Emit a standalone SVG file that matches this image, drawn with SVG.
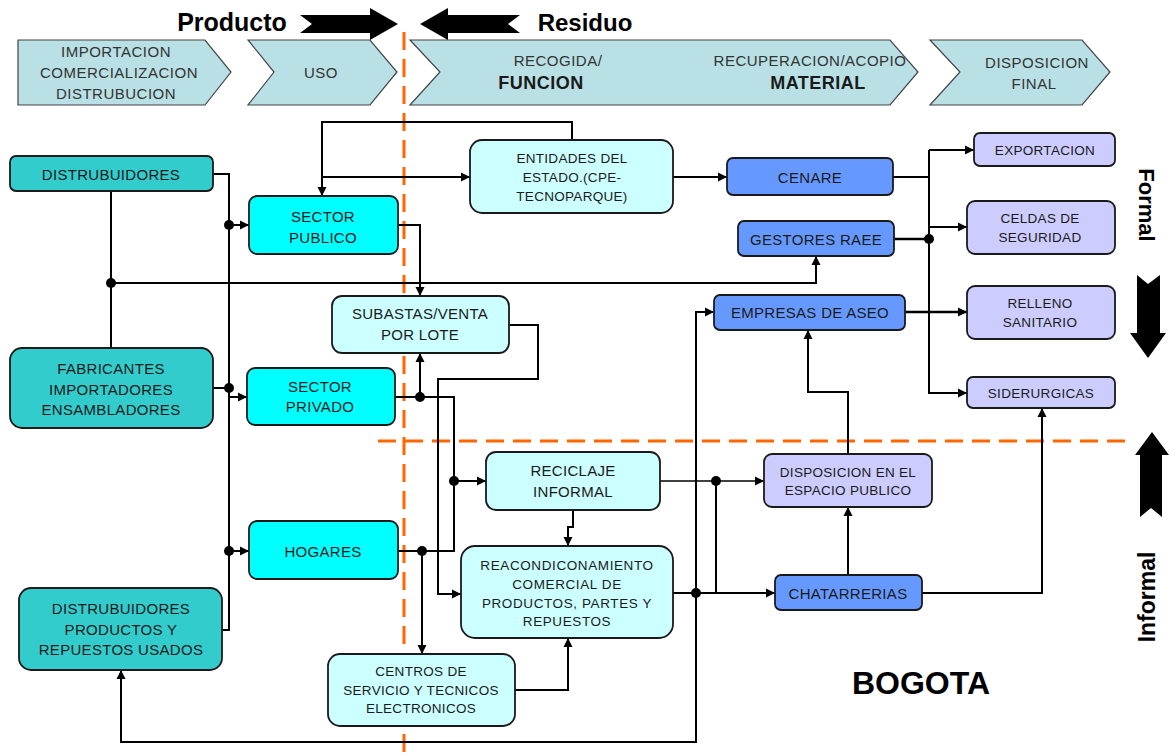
<svg xmlns="http://www.w3.org/2000/svg" width="1169" height="755" viewBox="0 0 1169 755">
<defs>
<marker id="arr" markerUnits="userSpaceOnUse" markerWidth="10" markerHeight="10" refX="9" refY="5" orient="auto">
<path d="M0,0.5 L9,5 L0,9.5 z" fill="#000"/>
</marker>
<style>
text{font-family:"Liberation Sans",Arial,sans-serif;text-anchor:middle;dominant-baseline:central;fill:#1a1a1a}
.hdr{fill:#b9e0e4;stroke:#444;stroke-width:1.2}
.ht{font-size:15px;letter-spacing:0.5px;fill:#333}
.hb{font-size:18px;letter-spacing:0.5px;font-weight:bold;fill:#1a1a1a}
.big{font-weight:bold;fill:#000}
.node rect{stroke:#1a1a1a;stroke-width:1.8}
.teal rect{fill:#33cccc}
.cyan rect{fill:#00ffff}
.pale rect{fill:#ccffff}
.blue rect{fill:#6699ff}
.lav rect{fill:#ccccff}
.t14{font-size:15px;letter-spacing:0.3px}
.t12{font-size:13.5px;letter-spacing:0.3px}
.t12w{font-size:13.5px;letter-spacing:0.6px}
#connectors path{fill:none;stroke:#000;stroke-width:2}
#connectors .thin{stroke-width:1.3}
#connectors .thick{stroke-width:2.6}
#connectors .a{marker-end:url(#arr)}
#connectors circle{fill:#000}
.orange{stroke:#ff6600;stroke-width:3;stroke-dasharray:18 9;fill:none}
</style>
</defs>
<rect width="1169" height="755" fill="#fff"/>

<!-- header -->
<g id="header">
<polygon class="hdr" points="18,40 205,40 231,72 205,105 18,105"/>
<text class="ht" x="116" y="51">IMPORTACION</text>
<text class="ht" x="119" y="72">COMERCIALIZACION</text>
<text class="ht" x="116" y="93">DISTRUBUCION</text>
<polygon class="hdr" points="248,40 370,40 397,72 370,105 248,105 274,72"/>
<text class="ht" x="321" y="72">USO</text>
<polygon class="hdr" points="410,40 890,40 918,72 890,105 410,105 440,72"/>
<text class="ht" x="558" y="60">RECOGIDA/</text>
<text class="hb" x="541" y="83">FUNCION</text>
<text class="ht" x="810" y="60">RECUPERACION/ACOPIO</text>
<text class="hb" x="818" y="83">MATERIAL</text>
<polygon class="hdr" points="930,40 1082,40 1110,72 1082,105 930,105 960,72"/>
<text class="ht" x="1037" y="62">DISPOSICION</text>
<text class="ht" x="1034" y="83">FINAL</text>
<text class="big" x="232" y="22" font-size="25">Producto</text>
<polygon points="300,15 370,15 370,8 398,24 370,40 370,33 300,33 312,24" fill="#000"/>
<text class="big" x="585" y="22" font-size="24">Residuo</text>
<polygon points="520,15 448,15 448,8 420,24 448,40 448,33 520,33 508,24" fill="#000"/>
</g>

<!-- orange dividers -->
<path class="orange" d="M404,32 V755"/>
<path class="orange" d="M378,441 H1134"/>

<!-- connectors -->
<g id="connectors">
<path d="M213,174 H229 V630 H222"/>
<path class="a" d="M229,225 H249"/>
<path d="M213,388 H229"/>
<path class="a" d="M229,397 H247"/>
<path class="a" d="M229,551 H249"/>
<path d="M111,191 V348"/>
<path class="a" d="M111,283 H816 V256"/>
<path class="a" d="M572,140 V122 H322 V196"/>
<path class="a" d="M322,177 H470"/>
<path class="a" d="M673,177 H727"/>
<path d="M893,177 H929"/>
<path class="a" d="M929,150 H974"/>
<path class="a" d="M929,150 V393 H967"/>
<path class="a" d="M929,227 H967"/>
<path class="thick" d="M894,239 H929"/>
<path class="a thick" d="M905,312 H967"/>
<path class="a" d="M398,225 H420 V296"/>
<path class="a" d="M509,325 H538 V379 H438 V594 H461"/>
<path d="M395,397 H454 V551 H398"/>
<path class="a" d="M420,397 V353"/>
<path class="a" d="M454,481 H486"/>
<path class="a" d="M422,551 V654"/>
<path class="a" d="M573,510 V527 H568 V546"/>
<path class="a thin" d="M660,481 H764"/>
<path d="M716,481 V593"/>
<path class="a" d="M673,593 H775"/>
<path class="a" d="M696,593 V312 H714"/>
<path class="a" d="M696,593 V742 H121 V670"/>
<path class="a" d="M515,690 H568 V638"/>
<path class="a" d="M848,575 V507"/>
<path class="a" d="M848,454 V392 H808 V330"/>
<path class="a" d="M922,593 H1042 V408"/>
<circle cx="229" cy="225" r="5"/>
<circle cx="229" cy="388" r="5"/>
<circle cx="229" cy="551" r="5"/>
<circle cx="111" cy="283" r="5"/>
<circle cx="929" cy="239" r="5"/>
<circle cx="420" cy="397" r="5"/>
<circle cx="454" cy="481" r="5"/>
<circle cx="422" cy="551" r="5"/>
<circle cx="716" cy="481" r="5"/>
<circle cx="696" cy="593" r="5"/>
</g>

<!-- nodes -->
<g id="distribuidores" class="node teal"><rect x="10" y="156" width="203" height="35" rx="6"/><text class="t14" x="111" y="174">DISTRUBUIDORES</text></g>
<g id="fabricantes" class="node teal"><rect x="10" y="348" width="203" height="80" rx="12"/><text class="t14" x="111" y="368">FABRICANTES</text><text class="t14" x="111" y="389">IMPORTADORES</text><text class="t14" x="111" y="409">ENSAMBLADORES</text></g>
<g id="usados" class="node teal"><rect x="19" y="588" width="203" height="82" rx="12"/><text class="t14" x="121" y="608">DISTRUBUIDORES</text><text class="t14" x="121" y="629">PRODUCTOS  Y</text><text class="t14" x="121" y="649">REPUESTOS USADOS</text></g>
<g id="sector-publico" class="node cyan"><rect x="249" y="196" width="149" height="58" rx="8"/><text class="t14" x="323" y="216">SECTOR</text><text class="t14" x="323" y="237">PUBLICO</text></g>
<g id="sector-privado" class="node cyan"><rect x="247" y="368" width="148" height="57" rx="8"/><text class="t14" x="320" y="386">SECTOR</text><text class="t14" x="320" y="406">PRIVADO</text></g>
<g id="hogares" class="node cyan"><rect x="249" y="521" width="149" height="58" rx="8"/><text class="t14" x="323" y="551">HOGARES</text></g>
<g id="entidades" class="node pale"><rect x="470" y="140" width="203" height="73" rx="12"/><text class="t12" x="572" y="158">ENTIDADES DEL</text><text class="t12" x="572" y="177">ESTADO.(CPE-</text><text class="t12" x="572" y="196">TECNOPARQUE)</text></g>
<g id="subastas" class="node pale"><rect x="332" y="296" width="177" height="57" rx="10"/><text class="t14" x="420" y="313">SUBASTAS/VENTA</text><text class="t14" x="420" y="334">POR LOTE</text></g>
<g id="reciclaje" class="node pale"><rect x="486" y="452" width="174" height="58" rx="10"/><text class="t14" x="573" y="470">RECICLAJE</text><text class="t14" x="573" y="491">INFORMAL</text></g>
<g id="reacondicionamiento" class="node pale"><rect x="461" y="546" width="212" height="92" rx="14"/><text class="t12w" x="567" y="565">REACONDICONAMIENTO</text><text class="t12w" x="567" y="584">COMERCIAL DE</text><text class="t12w" x="567" y="603">PRODUCTOS, PARTES Y</text><text class="t12w" x="567" y="621">REPUESTOS</text></g>
<g id="centros" class="node pale"><rect x="328" y="654" width="187" height="72" rx="12"/><text class="t12" x="421" y="671">CENTROS DE</text><text class="t12" x="421" y="690">SERVICIO Y TECNICOS</text><text class="t12" x="421" y="708">ELECTRONICOS</text></g>
<g id="cenare" class="node blue"><rect x="727" y="158" width="166" height="37" rx="6"/><text class="t14" x="810" y="177">CENARE</text></g>
<g id="gestores" class="node blue"><rect x="738" y="221" width="156" height="35" rx="6"/><text class="t14" x="816" y="239">GESTORES RAEE</text></g>
<g id="empresas-aseo" class="node blue"><rect x="714" y="295" width="191" height="35" rx="6"/><text class="t14" x="810" y="312">EMPRESAS DE ASEO</text></g>
<g id="chatarrerias" class="node blue"><rect x="775" y="575" width="147" height="35" rx="6"/><text class="t14" x="848" y="593">CHATARRERIAS</text></g>
<g id="disposicion" class="node lav"><rect x="764" y="454" width="168" height="53" rx="8"/><text class="t12" x="848" y="472">DISPOSICION EN EL</text><text class="t12" x="848" y="490">ESPACIO PUBLICO</text></g>
<g id="exportacion" class="node lav"><rect x="974" y="133" width="141" height="33" rx="6"/><text class="t12" x="1045" y="150">EXPORTACION</text></g>
<g id="celdas" class="node lav"><rect x="967" y="201" width="148" height="53" rx="8"/><text class="t12" x="1040" y="218">CELDAS DE</text><text class="t12" x="1040" y="237">SEGURIDAD</text></g>
<g id="relleno" class="node lav"><rect x="967" y="286" width="148" height="53" rx="8"/><text class="t12" x="1040" y="303">RELLENO</text><text class="t12" x="1040" y="322">SANITARIO</text></g>
<g id="siderurgicas" class="node lav"><rect x="967" y="377" width="148" height="31" rx="6"/><text class="t12" x="1041" y="393">SIDERURGICAS</text></g>

<!-- side labels -->
<g id="side">
<text class="big" font-size="22" transform="translate(1146,205) rotate(90)">Formal</text>
<polygon points="1137,275 1148,284 1160,275 1160,333 1166,333 1148,358 1130,333 1137,333" fill="#000"/>
<polygon points="1152,432 1169,455 1162,455 1162,517 1151,508 1140,517 1140,455 1135,455" fill="#000"/>
<text class="big" font-size="23" transform="translate(1147,597) rotate(-90)">Informal</text>
<text class="big" x="921" y="683" font-size="32">BOGOTA</text>
</g>
</svg>
